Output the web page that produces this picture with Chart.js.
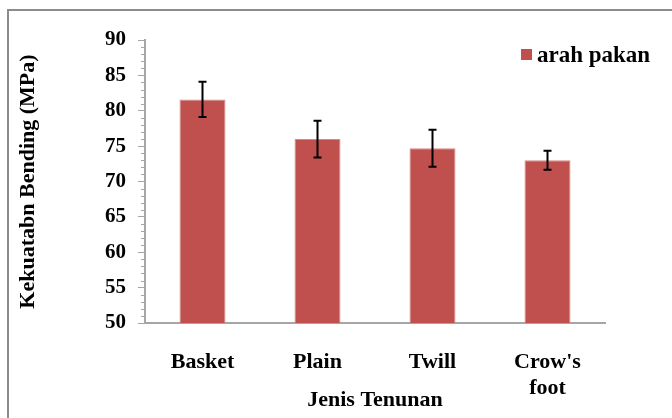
<!DOCTYPE html>
<html lang="en">
<head>
  <meta charset="UTF-8" />
  <title>Kekuatan Bending</title>
  <script src="https://cdn.jsdelivr.net/npm/chart.js"></script>
  <style>
    body {
      margin: 0;
      background: #ffffff;
    }

    .wrap {
      position: relative;
      width: 672px;
      height: 418px;
      overflow: hidden;
    }

    .frame {
      position: absolute;
      left: 7px;
      top: 9px;
      width: 700px;
      height: 440px;
      border: 2px solid #8c8c8c;
    }

    canvas {
      position: absolute;
      left: 0;
      top: 0;
    }
  </style>
</head>
<body>

  <div class="wrap">
    <div class="frame"></div>
    <canvas id="chart" width="672" height="418"></canvas>
  </div>

  <script>
    const categories = ['Basket', 'Plain', 'Twill', ["Crow's", 'foot']];
    const seriesName = 'arah pakan';
    const values = [81.6, 76.0, 74.7, 73.0];
    const errors = [2.5, 2.6, 2.6, 1.35];
    const yTicks = [50, 55, 60, 65, 70, 75, 80, 85, 90];

    const serif = "'Liberation Serif', 'Times New Roman', serif";
    const barColor = '#C0504D';

    // error bars, minor ticks and the in-plot legend
    const extras = {
      id: 'extras',
      afterDatasetsDraw(chart) {
        const ctx = chart.ctx;
        const y = chart.scales.y;
        const meta = chart.getDatasetMeta(0);

        ctx.save();
        ctx.strokeStyle = '#000000';
        ctx.lineWidth = 2;
        meta.data.forEach((bar, i) => {
          const top = y.getPixelForValue(values[i] + errors[i]);
          const bot = y.getPixelForValue(values[i] - errors[i]);
          ctx.beginPath();
          ctx.moveTo(bar.x, top);
          ctx.lineTo(bar.x, bot);
          ctx.moveTo(bar.x - 4, top);
          ctx.lineTo(bar.x + 4, top);
          ctx.moveTo(bar.x - 4, bot);
          ctx.lineTo(bar.x + 4, bot);
          ctx.stroke();
        });

        // minor ticks every 1 unit
        ctx.strokeStyle = '#a6a6a6';
        ctx.lineWidth = 1;
        for (let v = yTicks[0]; v <= yTicks[yTicks.length - 1]; v++) {
          if (v % 5 === 0) continue;
          const py = Math.round(y.getPixelForValue(v)) + 0.5;
          ctx.beginPath();
          ctx.moveTo(y.right - 4, py);
          ctx.lineTo(y.right, py);
          ctx.stroke();
        }

        // legend
        ctx.fillStyle = barColor;
        ctx.fillRect(521, 49, 11, 11);
        ctx.fillStyle = '#000000';
        ctx.font = 'bold 23px ' + serif;
        ctx.textBaseline = 'middle';
        ctx.textAlign = 'left';
        ctx.fillText(seriesName, 537, 56);
        ctx.restore();
      }
    };

    new Chart(document.getElementById('chart').getContext('2d'), {
      type: 'bar',
      data: {
        labels: categories,
        datasets: [{
          label: seriesName,
          data: values,
          backgroundColor: barColor,
          borderColor: '#d48a88',
          borderWidth: 1,
          categoryPercentage: 1,
          barPercentage: 0.4
        }]
      },
      options: {
        responsive: false,
        animation: false,
        layout: {
          padding: { left: 15, top: 40, right: 67, bottom: 4 }
        },
        plugins: {
          legend: { display: false },
          tooltip: { enabled: false }
        },
        scales: {
          y: {
            min: 50,
            max: 90,
            afterFit(scale) { scale.width = 130; },
            afterBuildTicks(scale) {
              scale.ticks = yTicks.map(v => ({ value: v }));
            },
            ticks: {
              color: '#000000',
              padding: 12,
              font: { family: serif, size: 21, weight: 'bold' }
            },
            grid: {
              drawOnChartArea: false,
              tickLength: 7,
              color: '#a6a6a6'
            },
            border: { display: true, color: '#a6a6a6', width: 2 },
            title: {
              display: true,
              text: 'Kekuatabn Bending (MPa)',
              color: '#000000',
              font: { family: serif, size: 22, weight: 'bold' },
              padding: { top: 0, bottom: 0 }
            }
          },
          x: {
            afterFit(scale) { scale.height = 91; },
            ticks: {
              color: '#000000',
              padding: 18,
              font: { family: serif, size: 22, weight: 'bold' }
            },
            grid: { display: false },
            border: { display: true, color: '#a6a6a6', width: 2 },
            title: {
              display: true,
              text: 'Jenis Tenunan',
              color: '#000000',
              font: { family: serif, size: 22, weight: 'bold' },
              padding: { top: 0, bottom: 0 }
            }
          }
        }
      },
      plugins: [extras]
    });
  </script>
</body>
</html>
